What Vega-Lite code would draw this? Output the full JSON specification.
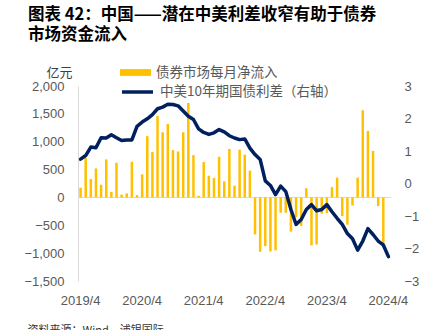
{
  "$schema": "https://vega.github.io/schema/vega-lite/v6.json",
  "width": 313,
  "height": 195,
  "autosize": {"type": "none"},
  "padding": {"left": 78, "top": 86, "right": 33, "bottom": 49},
  "title": {
    "text": ["图表 42：中国——潜在中美利差收窄有助于债券", "市场资金流入"],
    "anchor": "start",
    "frame": "group",
    "dx": -50,
    "offset": 14,
    "fontSize": 16.5,
    "fontWeight": "bold",
    "font": "Noto Sans CJK SC",
    "color": "#000000",
    "lineHeight": 20
  },
  "config": {"view": {"stroke": null}},
  "data": {
    "values": [
      {"m": "2019/4", "flow": 175, "spread": 0.75},
      {"m": "2019/5", "flow": 707, "spread": 0.86},
      {"m": "2019/6", "flow": 330, "spread": 1.12},
      {"m": "2019/7", "flow": 520, "spread": 1.10},
      {"m": "2019/8", "flow": 228, "spread": 1.41},
      {"m": "2019/9", "flow": 682, "spread": 1.40},
      {"m": "2019/10", "flow": 100, "spread": 1.50},
      {"m": "2019/11", "flow": 622, "spread": 1.41},
      {"m": "2019/12", "flow": 50, "spread": 1.32},
      {"m": "2020/1", "flow": 72, "spread": 1.34},
      {"m": "2020/2", "flow": 640, "spread": 1.34},
      {"m": "2020/3", "flow": 43, "spread": 1.76},
      {"m": "2020/4", "flow": 413, "spread": 1.89},
      {"m": "2020/5", "flow": 1100, "spread": 1.99},
      {"m": "2020/6", "flow": 815, "spread": 2.12},
      {"m": "2020/7", "flow": 1460, "spread": 2.30},
      {"m": "2020/8", "flow": 1170, "spread": 2.35},
      {"m": "2020/9", "flow": 1318, "spread": 2.44},
      {"m": "2020/10", "flow": 850, "spread": 2.43},
      {"m": "2020/11", "flow": 825, "spread": 2.39},
      {"m": "2020/12", "flow": 1170, "spread": 2.23},
      {"m": "2021/1", "flow": 1695, "spread": 2.07},
      {"m": "2021/2", "flow": 760, "spread": 1.97},
      {"m": "2021/3", "flow": 30, "spread": 1.68},
      {"m": "2021/4", "flow": 635, "spread": 1.57},
      {"m": "2021/5", "flow": 390, "spread": 1.51},
      {"m": "2021/6", "flow": 348, "spread": 1.56},
      {"m": "2021/7", "flow": 730, "spread": 1.66},
      {"m": "2021/8", "flow": 288, "spread": 1.59},
      {"m": "2021/9", "flow": 870, "spread": 1.47},
      {"m": "2021/10", "flow": 210, "spread": 1.40},
      {"m": "2021/11", "flow": 857, "spread": 1.35},
      {"m": "2021/12", "flow": 767, "spread": 1.37},
      {"m": "2022/1", "flow": 480, "spread": 1.09},
      {"m": "2022/2", "flow": -665, "spread": 0.89},
      {"m": "2022/3", "flow": -975, "spread": 0.74},
      {"m": "2022/4", "flow": -875, "spread": 0.08},
      {"m": "2022/5", "flow": -970, "spread": -0.06},
      {"m": "2022/6", "flow": -950, "spread": -0.34},
      {"m": "2022/7", "flow": -275, "spread": -0.08},
      {"m": "2022/8", "flow": -275, "spread": -0.25},
      {"m": "2022/9", "flow": -615, "spread": -0.80},
      {"m": "2022/10", "flow": -350, "spread": -1.26},
      {"m": "2022/11", "flow": -510, "spread": -1.11},
      {"m": "2022/12", "flow": 165, "spread": -0.80},
      {"m": "2023/1", "flow": -860, "spread": -0.65},
      {"m": "2023/2", "flow": -845, "spread": -0.84},
      {"m": "2023/3", "flow": -290, "spread": -0.80},
      {"m": "2023/4", "flow": -280, "spread": -0.65},
      {"m": "2023/5", "flow": 185, "spread": -0.87},
      {"m": "2023/6", "flow": 355, "spread": -1.07},
      {"m": "2023/7", "flow": -335, "spread": -1.26},
      {"m": "2023/8", "flow": -490, "spread": -1.54},
      {"m": "2023/9", "flow": -145, "spread": -1.70},
      {"m": "2023/10", "flow": 355, "spread": -2.05},
      {"m": "2023/11", "flow": 1565, "spread": -1.77},
      {"m": "2023/12", "flow": 1195, "spread": -1.39},
      {"m": "2024/1", "flow": 835, "spread": -1.57},
      {"m": "2024/2", "flow": -155, "spread": -1.77},
      {"m": "2024/3", "flow": -825, "spread": -1.89},
      {"m": "2024/4", "flow": null, "spread": -2.25}
    ]
  },
  "layer": [
    {
      "layer": [
        {
          "data": {"values": [{"flow": 0}]},
          "mark": {"type": "rule", "color": "#d9d9d9", "strokeWidth": 1},
          "encoding": {
            "y": {
              "field": "flow",
              "type": "quantitative",
              "scale": {"domain": [-1500, 2000], "nice": false, "zero": false},
              "axis": {
                "values": [-1500, -1000, -500, 0, 500, 1000, 1500, 2000],
                "labelExpr": "format(datum.value, ',')",
                "labelOverlap": false,
                "grid": false,
                "ticks": false,
                "tickSize": 0,
                "domainColor": "#d9d9d9",
                "labelPadding": 14,
                "labelFont": "Liberation Sans",
                "labelFontSize": 13,
                "labelColor": "#595959",
                "title": "亿元",
                "titleAngle": 0,
                "titleAnchor": "end",
                "titleAlign": "right",
                "titleBaseline": "bottom",
                "titleX": -6,
                "titleY": -7,
                "titleFont": "Noto Sans CJK SC",
                "titleFontSize": 13,
                "titleFontWeight": "normal",
                "titleColor": "#404040"
              }
            }
          }
        },
        {
          "mark": {"type": "bar", "size": 2.5},
          "encoding": {
            "x": {
              "field": "m",
              "type": "ordinal",
              "sort": null,
              "scale": {"type": "band", "paddingInner": 0, "paddingOuter": 0},
              "axis": {
                "values": ["2019/4", "2020/4", "2021/4", "2022/4", "2023/4", "2024/4"],
                "labelAngle": 0,
                "labelOverlap": false,
                "domain": false,
                "ticks": false,
                "tickSize": 0,
                "labelPadding": 13,
                "labelFont": "Liberation Sans",
                "labelFontSize": 13,
                "labelColor": "#595959",
                "title": "资料来源：Wind，浦银国际",
                "titleAnchor": "start",
                "titleAlign": "left",
                "titleBaseline": "top",
                "titleX": -51,
                "titleY": 43,
                "titleFont": "Noto Sans CJK SC",
                "titleFontSize": 11,
                "titleFontWeight": "normal",
                "titleColor": "#333333"
              }
            },
            "y": {
              "field": "flow",
              "type": "quantitative",
              "scale": {"domain": [-1500, 2000], "nice": false, "zero": false},
              "axis": {
                "values": [-1500, -1000, -500, 0, 500, 1000, 1500, 2000],
                "labelExpr": "format(datum.value, ',')",
                "labelOverlap": false,
                "grid": false,
                "ticks": false,
                "tickSize": 0,
                "domainColor": "#d9d9d9",
                "labelPadding": 14,
                "labelFont": "Liberation Sans",
                "labelFontSize": 13,
                "labelColor": "#595959",
                "title": "亿元",
                "titleAngle": 0,
                "titleAnchor": "end",
                "titleAlign": "right",
                "titleBaseline": "bottom",
                "titleX": -6,
                "titleY": -7,
                "titleFont": "Noto Sans CJK SC",
                "titleFontSize": 13,
                "titleFontWeight": "normal",
                "titleColor": "#404040"
              }
            },
            "fill": {
              "datum": "债券市场每月净流入",
              "type": "nominal",
              "scale": {"range": ["#FFC000"]},
              "legend": {
                "orient": "none",
                "legendX": 42,
                "legendY": -29,
                "padding": 0,
                "title": null,
                "symbolType": "M-1,-0.22L1,-0.22L1,0.22L-1,0.22Z",
                "symbolSize": 961,
                "symbolStrokeWidth": 0,
                "labelOffset": 5,
                "labelLimit": 300,
                "labelFont": "Noto Sans CJK SC",
                "labelFontSize": 13.5,
                "labelColor": "#595959"
              }
            }
          }
        }
      ]
    },
    {
      "mark": {"type": "line", "strokeWidth": 3.5, "strokeJoin": "round", "strokeCap": "round"},
      "encoding": {
        "x": {
          "field": "m",
          "type": "ordinal",
          "sort": null,
          "scale": {"type": "band", "paddingInner": 0, "paddingOuter": 0}
        },
        "y": {
          "field": "spread",
          "type": "quantitative",
          "scale": {"domain": [-3, 3], "nice": false, "zero": false},
          "axis": {
            "orient": "right",
            "values": [-3, -2, -1, 0, 1, 2, 3],
            "labelOverlap": false,
            "grid": false,
            "domain": false,
            "ticks": false,
            "tickSize": 0,
            "labelPadding": 13,
            "labelFont": "Liberation Sans",
            "labelFontSize": 13,
            "labelColor": "#595959",
            "title": null
          }
        },
        "stroke": {
          "datum": "中美10年期国债利差（右轴）",
          "type": "nominal",
          "scale": {"range": ["#002060"]},
          "legend": {
            "orient": "none",
            "legendX": 42,
            "legendY": -11.5,
            "padding": 0,
            "title": null,
            "symbolType": "stroke",
            "symbolSize": 961,
            "symbolStrokeWidth": 3.5,
            "labelOffset": 5,
            "labelLimit": 300,
            "labelFont": "Noto Sans CJK SC",
            "labelFontSize": 13.5,
            "labelColor": "#595959"
          }
        }
      }
    }
  ],
  "resolve": {"scale": {"y": "independent", "fill": "independent", "stroke": "independent"}}
}
